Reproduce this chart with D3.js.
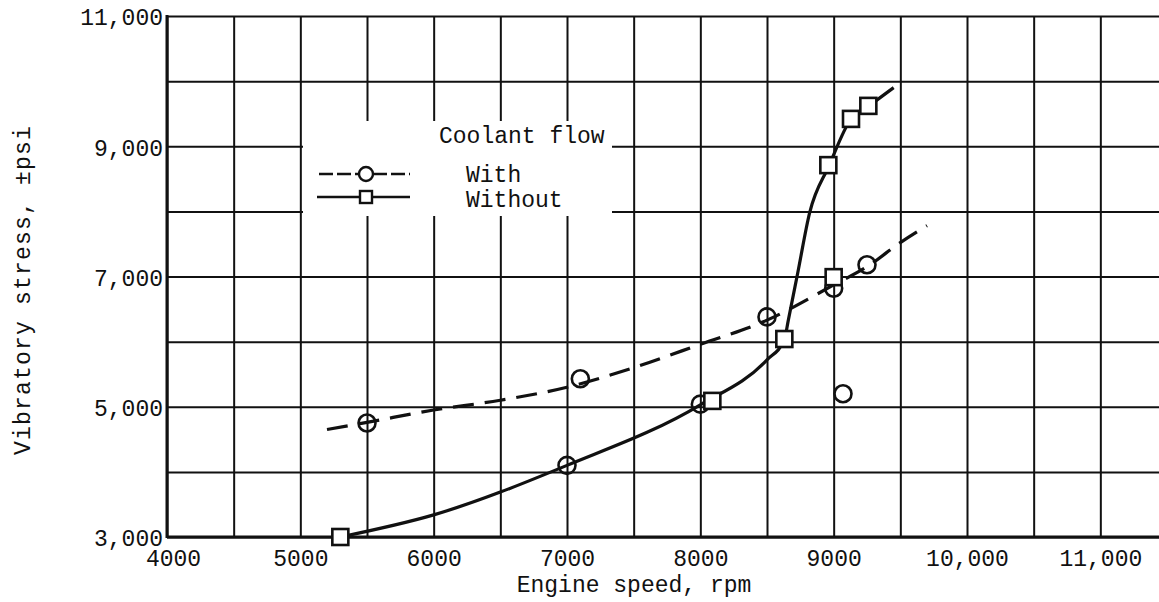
<!DOCTYPE html>
<html><head><meta charset="utf-8">
<script src="https://cdn.jsdelivr.net/npm/d3@7"></script>
<style>
html,body{margin:0;padding:0;background:#fff;}
svg{display:block;}
text{font-family:"Liberation Mono","DejaVu Sans Mono",monospace;fill:#111;}
</style></head>
<body>
<svg id="chart" width="1159" height="602"></svg>
<script>
// ---- data ----
const xTickValues = [4000, 5000, 6000, 7000, 8000, 9000, 10000, 11000];
const xTickLabels = ["4000", "5000", "6000", "7000", "8000", "9000", "10,000", "11,000"];
const yTickValues = [3000, 5000, 7000, 9000, 11000];
const yTickLabels = ["3,000", "5,000", "7,000", "9,000", "11,000"];

// "With" coolant flow (circles)
const withX = [5500, 7100, 7000, 8000, 8500, 9000, 9250, 9070];
const withY = [4750, 5430, 4100, 5040, 6380, 6820, 7180, 5200];
// "Without" coolant flow (squares)
const withoutX = [5300, 8090, 8630, 9000, 8960, 9130, 9260];
const withoutY = [3000, 5090, 6040, 6990, 8710, 9420, 9620];

// faired curves
const withCurveX = [5200, 5500, 6000, 6500, 7000, 7500, 8000, 8500, 9000, 9250, 9500, 9700];
const withCurveY = [4650, 4760, 4950, 5100, 5300, 5600, 5960, 6330, 6870, 7150, 7520, 7780];
const withoutCurveX = [5300, 6000, 7000, 8000, 8500, 8630, 8660, 8730, 8820, 8965, 9130, 9265, 9450];
const withoutCurveY = [3000, 3340, 4100, 5030, 5720, 6030, 6330, 7050, 7980, 8700, 9420, 9620, 9900];

const legendTitle = "Coolant flow";
const legendLabels = ["With", "Without"];
const xTitle = "Engine speed, rpm";
const yTitle = "Vibratory stress, \u00B1psi";

// ---- layout ----
const svg = d3.select("#chart");
const pL = 167, pR = 1167, pT = 16, pB = 537;
const x = d3.scaleLinear().domain([4000, 11500]).range([pL, pR]);
const y = d3.scaleLinear().domain([3000, 11000]).range([pB, pT]);

const xGrid = d3.range(4000, 11501, 500);
const yGrid = d3.range(3000, 11001, 1000);

// grid via axes
const gx = svg.append("g").attr("transform", `translate(0,${pB})`)
  .call(d3.axisBottom(x).tickValues(xGrid).tickSize(-(pB - pT)).tickPadding(13)
    .tickFormat(d => { const i = xTickValues.indexOf(d); return i >= 0 ? xTickLabels[i] : ""; }));
gx.select(".domain").remove();
gx.selectAll("line").attr("stroke", "#111").attr("stroke-width", 2);
gx.selectAll("text").attr("font-size", 23).attr("fill", "#111").attr("dy", "0.71em")
  .attr("dx", (d, i) => d === 4000 ? 6 : 0);

const gy = svg.append("g").attr("transform", `translate(${pL},0)`)
  .call(d3.axisLeft(y).tickValues(yGrid).tickSize(-(pR - pL)).tickPadding(4)
    .tickFormat(d => { const i = yTickValues.indexOf(d); return i >= 0 ? yTickLabels[i] : ""; }));
gy.select(".domain").remove();
gy.selectAll("line").attr("stroke", "#111").attr("stroke-width", 2);
gy.selectAll("text").attr("font-size", 23).attr("fill", "#111").attr("dy", "0.38em");

// axis frame lines
svg.append("line").attr("x1", pL).attr("x2", pL).attr("y1", pT - 1).attr("y2", pB + 1)
  .attr("stroke", "#111").attr("stroke-width", 3);
svg.append("line").attr("x1", pL).attr("x2", 1159).attr("y1", pB).attr("y2", pB)
  .attr("stroke", "#111").attr("stroke-width", 3);

// legend white box
svg.append("rect").attr("x", 303).attr("y", 121).attr("width", 309).attr("height", 95).attr("fill", "#fff");

// curves
const line = d3.line().x(d => x(d[0])).y(d => y(d[1])).curve(d3.curveMonotoneX);
svg.append("path").datum(withCurveX.map((v, i) => [v, withCurveY[i]]))
  .attr("d", line).attr("fill", "none").attr("stroke", "#111").attr("stroke-width", 3.2)
  .attr("stroke-dasharray", "21,11");
svg.append("path").datum(withoutCurveX.map((v, i) => [v, withoutCurveY[i]]))
  .attr("d", line).attr("fill", "none").attr("stroke", "#111").attr("stroke-width", 3.2);

// markers
svg.append("g").selectAll("circle").data(withX.map((v, i) => [v, withY[i]])).join("circle")
  .attr("cx", d => x(d[0])).attr("cy", d => y(d[1])).attr("r", 8.5)
  .attr("fill", "#fff").attr("fill-opacity", 0).attr("stroke", "#111").attr("stroke-width", 2.6);
const sq = 16;
svg.append("g").selectAll("rect").data(withoutX.map((v, i) => [v, withoutY[i]])).join("rect")
  .attr("x", d => x(d[0]) - sq / 2).attr("y", d => y(d[1]) - sq / 2)
  .attr("width", sq).attr("height", sq)
  .attr("fill", "#fff").attr("stroke", "#111").attr("stroke-width", 2.6);

// legend
const lg = svg.append("g");
lg.append("text").attr("x", 439).attr("y", 143).attr("font-size", 23).text(legendTitle);
lg.append("line").attr("x1", 319).attr("x2", 410).attr("y1", 174).attr("y2", 174)
  .attr("stroke", "#111").attr("stroke-width", 2.6).attr("stroke-dasharray", "14,4");
lg.append("circle").attr("cx", 366).attr("cy", 174).attr("r", 7).attr("fill", "#fff")
  .attr("stroke", "#111").attr("stroke-width", 2.4);
lg.append("line").attr("x1", 317).attr("x2", 410).attr("y1", 197).attr("y2", 197)
  .attr("stroke", "#111").attr("stroke-width", 2.6);
lg.append("rect").attr("x", 360).attr("y", 191).attr("width", 12).attr("height", 12).attr("fill", "#fff")
  .attr("stroke", "#111").attr("stroke-width", 2.4);
lg.append("text").attr("x", 466).attr("y", 182).attr("font-size", 23).text(legendLabels[0]);
lg.append("text").attr("x", 466).attr("y", 207).attr("font-size", 23).text(legendLabels[1]);

// axis titles
svg.append("text").attr("x", 634).attr("y", 592).attr("text-anchor", "middle").attr("font-size", 23).text(xTitle);
svg.append("text").attr("transform", "translate(30,290) rotate(-90)").attr("text-anchor", "middle")
  .attr("font-size", 23).attr("letter-spacing", 1.2).text(yTitle);
</script>
</body></html>
